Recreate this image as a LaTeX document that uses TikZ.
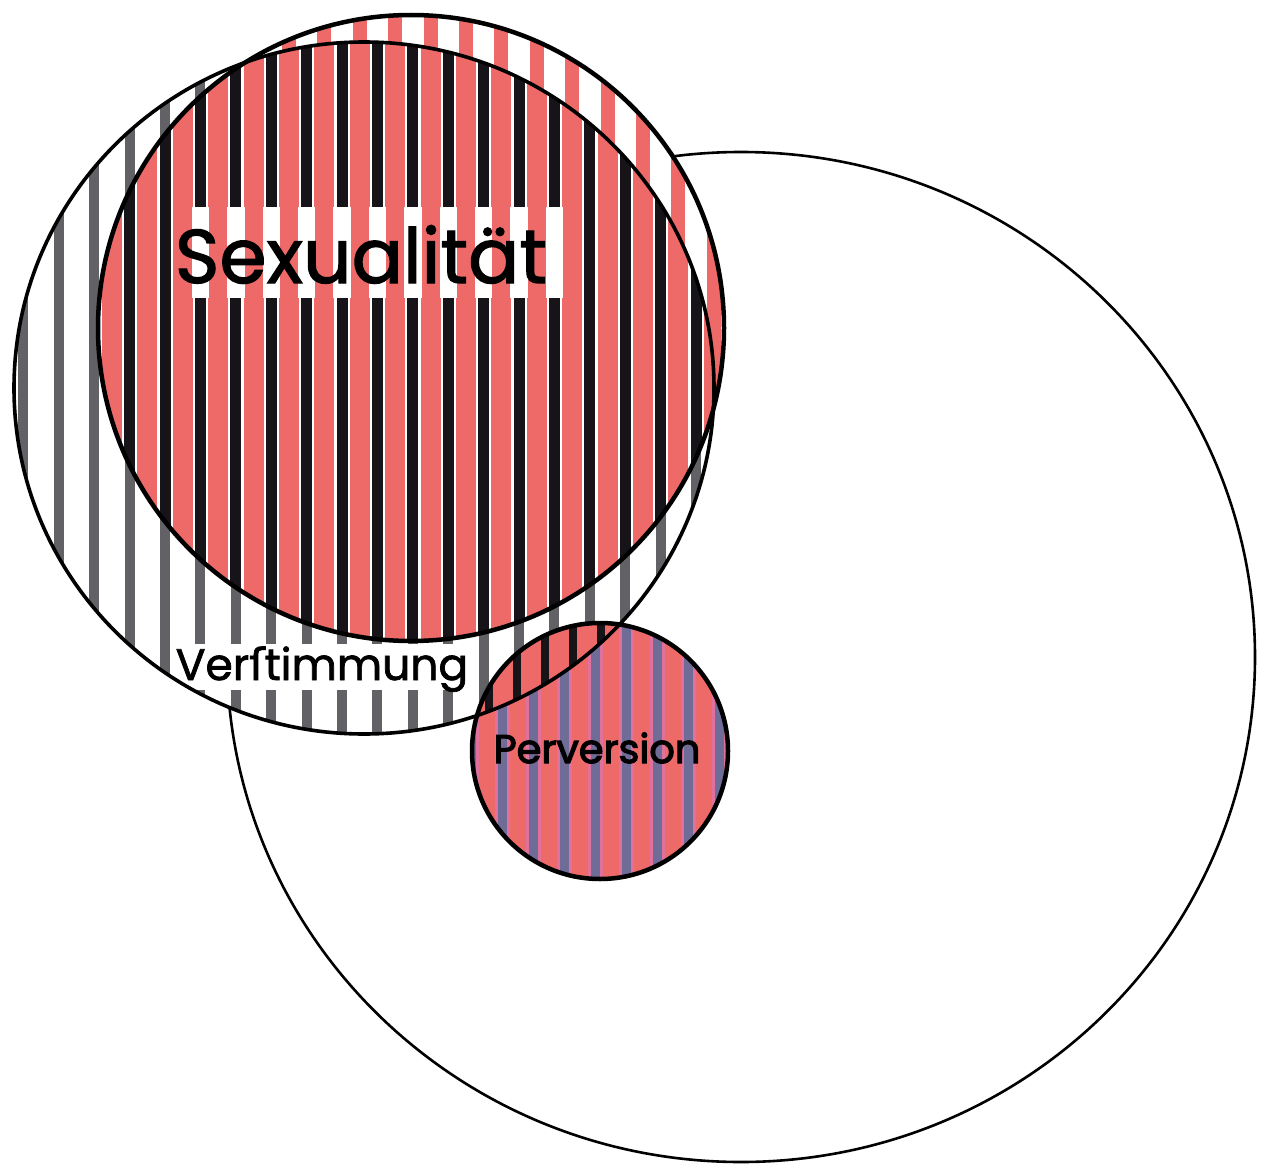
\documentclass[tikz,border=0pt]{standalone}
\usepackage{fontspec}
\setmainfont{Poppins}
\newfontfamily\heavyfont{Poppins}[FakeBold=1.6]
\newfontfamily\heavyfontb{Poppins}[FakeBold=3]
\newfontfamily\longsfont{DejaVu Sans}[FakeBold=1.6]
\definecolor{sred}{RGB}{238,106,104}
\definecolor{vgray}{RGB}{98,98,102}
\definecolor{vblack}{RGB}{22,20,24}
\definecolor{pblue}{RGB}{112,108,152}
\definecolor{pmag}{RGB}{212,120,200}
\tikzset{
  outline/.style={draw=black, line width=4.5pt},
  thinline/.style={draw=black, line width=2.6pt},
  label/.style={anchor=base, inner sep=0pt, text=black},
}
\def\bigC{(741,657) ellipse [x radius=514pt, y radius=505pt]}
\def\verC{(364,388) ellipse [x radius=350pt, y radius=346pt]}
\def\redC{(411,328) circle [radius=313pt]}
\def\perC{(600,751) circle [radius=128pt]}
\begin{document}
\begin{tikzpicture}[x=1pt,y=-1pt]
\useasboundingbox (0,0) rectangle (1270,1172);
\fill[white] (0,0) rectangle (1270,1172);
% big circle
\path[thinline, fill=white] \bigC;
% Verstimmung circle: grey stripes on white
\begin{scope}
  \clip \verC;
  \fill[white] (0,0) rectangle (800,800);
  \foreach \k in {-5,...,16} {
    \draw[vgray, line width=10pt] ({165+35.4*\k},0) -- ({165+35.4*\k},800);
  }
\end{scope}
% Sexualitaet circle: red stripes
\begin{scope}
  \clip \redC;
  \fill[white] (0,0) rectangle (800,800);
  \foreach \k in {-3,...,16} {
    \draw[sred, line width=14pt] ({182.7+35.4*\k},0) -- ({182.7+35.4*\k},800);
  }
  \begin{scope}
    \clip \verC;
    \foreach \k in {-3,...,16} {
      \draw[sred, line width=20pt] ({182.7+35.4*\k},0) -- ({182.7+35.4*\k},800);
      \draw[vblack, line width=11pt] ({165+35.4*\k},0) -- ({165+35.4*\k},800);
    }
  \end{scope}
  % band behind the title
  \begin{scope}
    \clip (180,207) rectangle (575,298);
    \fill[white] (180,207) rectangle (575,298);
    \foreach \k in {-1,...,12} {
      \draw[sred, line width=18pt] ({182.7+35.4*\k},0) -- ({182.7+35.4*\k},800);
    }
  \end{scope}
\end{scope}
% band behind Verstimmung
\begin{scope}
  \clip \verC;
  \fill[white] (178,644) rectangle (472,690);
\end{scope}
% Perversion circle
\begin{scope}
  \clip \perC;
  \fill[sred] (460,610) rectangle (740,890);
  \foreach \k in {-1,...,8} {
    \draw[pmag, line width=15pt, opacity=0.55] ({502+31*\k},600) -- ({502+31*\k},900);
    \draw[pblue, line width=9pt] ({502+31*\k},600) -- ({502+31*\k},900);
  }
  \begin{scope}
    \clip \verC;
    \fill[sred] (460,600) rectangle (740,760);
    \foreach \k in {-1,...,5} {
      \draw[vblack, line width=8pt] ({517+28*\k},600) -- ({517+28*\k},760);
    }
  \end{scope}
\end{scope}
% outlines
\path[draw=black, line width=3.6pt] \verC;
\path[outline] \redC;
\path[outline] \perC;
% labels
\node[label, font=\heavyfont\fontsize{76}{80}\selectfont] (sex) at (361,283) {Sexualität};
\node[label, font=\heavyfont\fontsize{44}{48}\selectfont] (ver) at (322,680) {Ver{\longsfont ſ}timmung};
\node[label, font=\heavyfontb\fontsize{40}{44}\selectfont] (per) at (597,763) {Perversion};
\end{tikzpicture}
\end{document}
